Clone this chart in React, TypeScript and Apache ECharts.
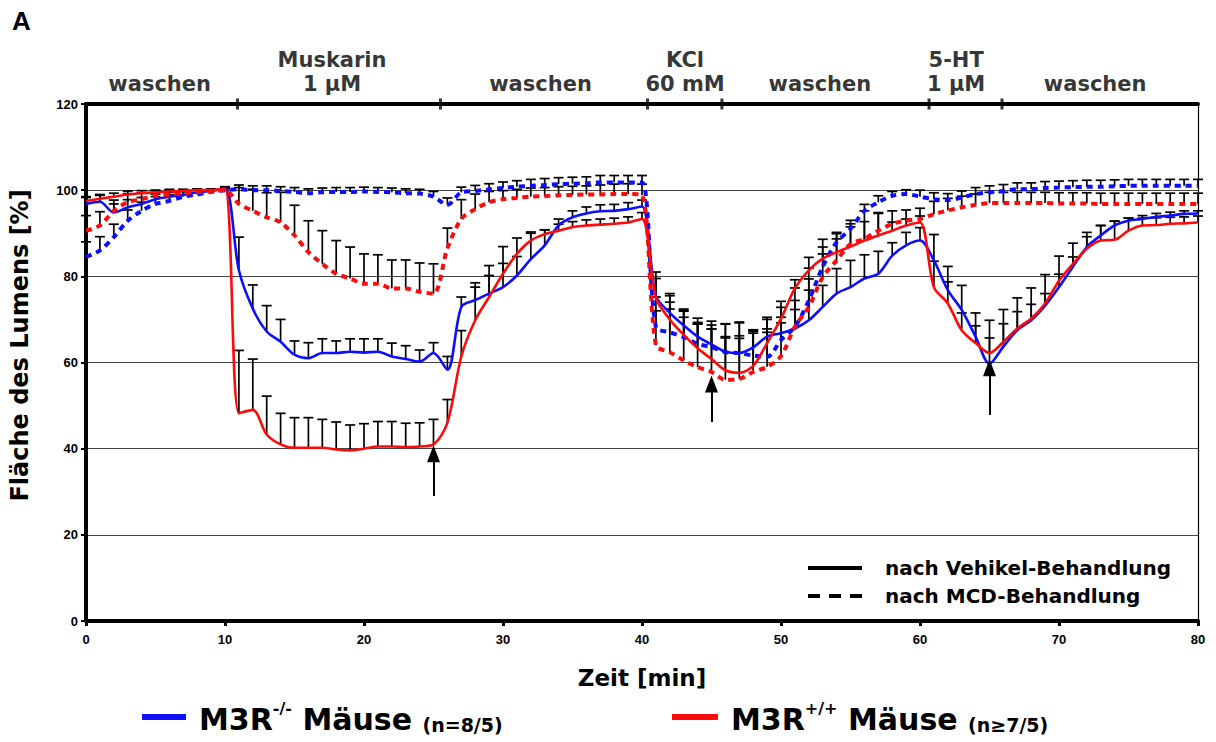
import React, { useEffect, useRef } from "react";
import * as echarts from "echarts";

const FONT = '"Liberation Sans", Arial, sans-serif';
const WIDE = '"DejaVu Sans", "Liberation Sans", sans-serif';
const BLUE = "#0d0dff";
const RED = "#ff0a0a";

// time points (min)
const minutes: number[] = Array.from({ length: 81 }, (_, i) => i);

// M3R-/- , vehicle (blue solid)
const blueVehikel = [96.8, 97.3, 94.8, 96, 96.8, 97.9, 98.5, 98.9, 99.5, 99.8, 100.5,
  81.4, 72.5, 67.2, 64.8, 61.8, 61, 62.2, 62.2, 62.5, 62.3, 62.5, 61.4, 60.8, 60.2, 62.2, 58.3,
  72.9, 74.5, 76, 77.5, 80.2, 84, 87.2, 91.8, 93.7, 94.6, 95.1, 95.2, 95.6, 96.2,
  75.5, 71.5, 68.6, 66, 64.2, 62.5, 62.2, 63.5, 66, 66.8, 67.9, 69.8, 72.9, 76, 77.5, 79.5, 80.6, 84.8, 87.2, 88.3,
  83.7, 76.8, 72.2, 66, 59.7, 63.7, 67.5, 69.8, 73.2, 77.5, 82.2, 86.8, 89.5, 91.8, 92.9, 93.3, 93.8, 94.1, 94.5, 94.6];
const blueVehikelSem = [1.5, 1.5, 2, 1.8, 1.5, 1.2, 1, 0.8, 0.6, 0.5, 0.3,
  7.7, 5.5, 6, 5.2, 3.2, 3.6, 3.3, 2.8, 3, 3.2, 3, 3.1, 3.1, 2.7, 2.4, 3.1,
  2.3, 4, 4.2, 5.5, 4.4, 6, 3.6, 1.5, 1.5, 1.5, 1.5, 1.5, 1.5, 1.5,
  4, 4, 3.5, 3, 4.5, 6.5, 7.2, 4, 4, 6, 6.5, 7, 5, 5.8, 6.2, 5.5, 5.2, 3, 3, 3,
  6, 5.5, 5.7, 5.5, 6, 5.3, 4.3, 3.7, 2.8, 3, 2.3, 2.4, 2.3, 1, 0.6, 0.8, 0.8, 0.8, 0.7, 0.6];

// M3R-/- , MCD (blue dashed)
const blueMCD = [84.5, 86, 89.1, 92.9, 95.2, 96.8, 97.5, 98.5, 99, 99.6, 100,
  100.2, 100, 100, 99.8, 99.6, 99.3, 99.5, 99.6, 99.6, 99.7, 99.6, 99.5, 99.3, 99.2, 98.5, 96.6,
  99.5, 99.8, 100.2, 100.5, 100.8, 101, 101.2, 101.4, 101.5, 101.6, 101.8, 101.8, 101.8, 101.8,
  68.2, 67, 65.9, 64.3, 63.6, 62.4, 62.2, 61.6, 61.3, 65.2, 68.3, 74.4, 82.2, 87.9, 91, 95.2, 97.2, 98.7, 99.1, 98.5,
  97.9, 97.7, 98.3, 99.1, 99.5, 99.8, 100.2, 100.2, 100.5, 100.6, 100.7, 100.8, 100.8, 100.9, 101, 101, 101, 101, 101, 101];
const blueMCDSem = [3.5, 3.2, 3, 2.5, 2, 1.7, 1.4, 1.2, 1, 0.7, 0.5,
  1, 1, 1, 1, 1, 1, 1, 1, 1, 1, 1, 1, 1, 1, 1.2, 1.6,
  1.2, 1.3, 1.3, 1.4, 1.4, 1.5, 1.5, 1.5, 1.5, 1.5, 1.6, 1.6, 1.6, 1.6,
  7, 7, 6, 6, 6, 6.5, 7, 6, 6.5, 4, 4, 5, 3, 2, 2, 1.5, 1.5, 1, 1, 1.5,
  1.5, 1.5, 1.5, 1.5, 1.5, 1.5, 1.5, 1.5, 1.5, 1.5, 1.5, 1.5, 1.5, 1.5, 1.5, 1.5, 1.5, 1.5, 1.5, 1.5];

// M3R+/+ , vehicle (red solid)
const redVehikel = [97.5, 98, 98.5, 99, 99.3, 99.5, 99.7, 99.8, 100, 100, 100.3,
  48.2, 49, 43.3, 41, 40.2, 40.2, 40.2, 39.8, 39.6, 40, 40.5, 40.5, 40.4, 40.5, 41, 46,
  61.4, 69.8, 75.2, 80.6, 85.2, 88.3, 89.8, 90.6, 91.4, 91.8, 92, 92.2, 92.5, 93.3,
  75, 70, 66.4, 63.3, 60.8, 58.2, 57.6, 59.2, 64.5, 70.2, 77.2, 81.4, 84.1, 85.6, 86.9, 88.3, 89.5, 90.6, 91.8, 92.5,
  77.5, 73.7, 67.5, 64.5, 62.2, 64.8, 67.9, 70.2, 73.7, 79, 82.9, 86.4, 88.3, 88.5, 90.6, 91.8, 91.9, 92.2, 92.3, 92.5];
const redVehikelSem = [1, 1, 0.8, 0.8, 0.6, 0.5, 0.5, 0.4, 0.3, 0.3, 0.3,
  14.6, 11.8, 8.9, 7.2, 7, 7, 6.6, 6.4, 5.9, 5.8, 5.8, 5.8, 5.5, 5.5, 5.8, 5.4,
  6, 7.7, 7.3, 6.3, 3.7, 2, 1, 1.5, 1.3, 1.3, 1.3, 1.3, 1.3, 1.5,
  6, 6, 6, 6, 7, 7.5, 8, 8, 6, 4, 2, 3, 4.5, 4.6, 5.3, 6.9, 5.3, 2, 1.5, 1.5,
  6, 5, 4, 4, 7.6, 7.5, 7.1, 7.1, 6.7, 5.7, 4.8, 3.8, 3.5, 4.3, 2.9, 1.7, 1.7, 1.5, 1.5, 1.5];

// M3R+/+ , MCD (red dashed)
const redMCD = [90.6, 91.8, 95.2, 97.2, 97.9, 98.7, 99, 99.3, 99.6, 99.8, 100,
  96.8, 95.2, 93.7, 92.5, 89.5, 85.6, 82.9, 80.6, 79.5, 78.3, 78.3, 77.2, 77.2, 76.4, 76, 86.5,
  93.3, 95.6, 97.2, 97.9, 98.2, 98.5, 98.6, 98.8, 98.9, 99, 99, 99.1, 99.1, 98.8,
  64, 62.4, 60.5, 58.9, 57.8, 56, 56.2, 57.8, 59, 61.5, 68.3, 72.9, 79.8, 83.7, 87.5, 88.7, 90.6, 92.2, 92.9, 93.3,
  94.4, 95.3, 96, 96.6, 97, 97, 97, 97, 97, 96.9, 96.9, 96.9, 96.8, 96.8, 96.8, 96.8, 96.8, 96.8, 96.8, 96.8];
const redMCDSem = [3.5, 3.2, 2.5, 2, 1.5, 1.2, 1, 0.8, 0.6, 0.4, 0.3,
  3.8, 5, 5.7, 7, 7, 7.3, 7.7, 7.7, 7.3, 6.9, 6.7, 6.6, 6.6, 6.7, 6.9, 4.7,
  4.5, 3.5, 2.5, 2, 2, 2, 2, 2, 2, 2, 2.2, 2.3, 2.4, 2.6,
  8, 10, 10, 10, 10, 10, 10, 9, 8, 9, 9, 9, 7, 5, 4, 4, 4, 3, 2.5, 2.5,
  3, 2.8, 2.6, 2.5, 2.5, 2.5, 2.5, 2.5, 2.5, 2.5, 2.5, 2.5, 2.5, 2.5, 2.5, 2.5, 2.5, 2.5, 2.5, 2.5];

// protocol annotations along the top
const phaseLabels = ["waschen", "Muskarin\n1 µM", "waschen", "KCl\n60 mM", "waschen", "5-HT\n1 µM", "waschen"];
const phaseCenters = [5.3, 17.7, 32.7, 43.1, 52.8, 62.6, 72.6];
const phaseTicks = [10.9, 25.5, 40.4, 45.75, 60.65, 65.9];

// arrows (x, from y, to y)
const arrowX = [25, 45, 65];
const arrowFrom = [29, 46.2, 47.8];
const arrowTo = [38.8, 55, 58.8];

const xTicks = [0, 10, 20, 30, 40, 50, 60, 70, 80];
const yTicks = [0, 20, 40, 60, 80, 100, 120];

const pair = (ys: number[]) => minutes.map((m, i) => [m, ys[i]]);

const DASH_ICON = "path://M0,0h12v4h-12z M21,0h12v4h-12z M42,0h12v4h-12z";

export default function App() {
  const ref = useRef<HTMLDivElement>(null);
  useEffect(() => {
    if (!ref.current) return;
    const chart = echarts.init(ref.current, null, { renderer: "svg" });

    const errData: number[][] = [];
    [[blueVehikel, blueVehikelSem], [blueMCD, blueMCDSem], [redVehikel, redVehikelSem], [redMCD, redMCDSem]].forEach(([m, s]) => {
      minutes.forEach((t, i) => errData.push([t, m[i], s[i]]));
    });

    const lineSeries = (name: string, data: number[], color: string, dashed: boolean) => ({
      type: "line",
      name,
      data: pair(data),
      smooth: 0.3,
      symbol: "none",
      z: 3,
      lineStyle: dashed ? { color, width: 4, type: [6, 5] } : { color, width: 2.6 },
      itemStyle: { color },
    });

    const legendRich = {
      a: { fontSize: 30, fontWeight: "bold", fontFamily: WIDE, color: "#000", lineHeight: 34, verticalAlign: "bottom" },
      sup: { fontSize: 16, fontWeight: "bold", fontFamily: WIDE, color: "#000", verticalAlign: "top", lineHeight: 34 },
      n: { fontSize: 19, fontWeight: "bold", fontFamily: WIDE, color: "#000", verticalAlign: "bottom", lineHeight: 30 },
    };

    chart.setOption({
      animation: false,
      backgroundColor: "#ffffff",
      grid: { left: 86, right: 18, top: 104, bottom: 121, containLabel: false },
      graphic: [
        { type: "text", left: 12, top: 8, style: { text: "A", fontSize: 26, fontWeight: "bold", fontFamily: FONT, fill: "#000" } },
      ],
      xAxis: [
        {
          type: "value", min: 0, max: 80, interval: 10, position: "bottom",
          name: "Zeit [min]", nameLocation: "middle", nameGap: 45,
          nameTextStyle: { fontSize: 23, fontWeight: "bold", fontFamily: WIDE, color: "#000" },
          axisLine: { show: true, onZero: false, lineStyle: { color: "#000", width: 4 } },
          axisTick: { show: true, length: 5, lineStyle: { color: "#000", width: 3 } },
          axisLabel: { fontSize: 13, fontWeight: "bold", fontFamily: FONT, color: "#000", margin: 12, formatter: (v: number) => (xTicks.includes(v) ? String(v) : "") },
          splitLine: { show: false },
        },
        {
          type: "value", min: 0, max: 80, position: "top",
          axisLine: { show: true, onZero: false, lineStyle: { color: "#000", width: 4 } },
          axisTick: { show: false }, axisLabel: { show: false }, splitLine: { show: false },
        },
      ],
      yAxis: [
        {
          type: "value", min: 0, max: 120, interval: 20,
          name: "Fläche des Lumens [%]", nameLocation: "middle", nameGap: 54,
          nameTextStyle: { fontSize: 24, fontWeight: "bold", fontFamily: WIDE, color: "#000", padding: [0, 0, 0, 34] },
          axisLine: { show: true, onZero: false, lineStyle: { color: "#000", width: 4 } },
          axisTick: { show: true, length: 5, lineStyle: { color: "#000", width: 2 } },
          axisLabel: { fontSize: 13, fontWeight: "bold", fontFamily: FONT, color: "#000", margin: 8, formatter: (v: number) => (yTicks.includes(v) ? String(v) : "") },
          splitLine: { show: true, lineStyle: { color: "#444", width: 1 } },
        },
        {
          type: "value", min: 0, max: 120, interval: 20, position: "right",
          axisLine: { show: true, onZero: false, lineStyle: { color: "#000", width: 1.2 } },
          axisTick: { show: false }, axisLabel: { show: false }, splitLine: { show: false },
        },
      ],
      legend: [
        {
          orient: "vertical", left: 808, top: 556, padding: 0, itemGap: 4, itemWidth: 54, itemHeight: 4,
          data: [
            { name: "nach Vehikel-Behandlung", icon: "rect" },
            { name: "nach MCD-Behandlung", icon: DASH_ICON },
          ],
          textStyle: { fontSize: 20, fontWeight: "bold", fontFamily: WIDE, color: "#000", padding: [0, 0, 0, 18], lineHeight: 24 },
          selectedMode: false,
        },
        {
          left: 142, top: 700, padding: 0, itemWidth: 44, itemHeight: 6, icon: "rect",
          data: ["M3R-/-"], selectedMode: false,
          formatter: () => "{a|M3R}{sup|-/-}{a| Mäuse }{n|(n=8/5)}",
          textStyle: { rich: legendRich, padding: [0, 0, 0, 8] },
        },
        {
          left: 672, top: 700, padding: 0, itemWidth: 46, itemHeight: 6, icon: "rect",
          data: ["M3R+/+"], selectedMode: false,
          formatter: () => "{a|M3R}{sup|+/+}{a| Mäuse }{n|(n≥7/5)}",
          textStyle: { rich: legendRich, padding: [0, 0, 0, 8] },
        },
      ],
      series: [
        {
          type: "custom",
          name: "errors",
          z: 2,
          silent: true,
          encode: { x: 0, y: 1 },
          data: errData,
          renderItem: (params: any, api: any) => {
            const x = api.value(0), y = api.value(1), e = api.value(2);
            const p0 = api.coord([x, y]);
            const p1 = api.coord([x, y + e]);
            const st = { stroke: "#000", lineWidth: 1.7 };
            return {
              type: "group",
              children: [
                { type: "line", shape: { x1: p0[0], y1: p0[1], x2: p1[0], y2: p1[1] }, style: st },
                { type: "line", shape: { x1: p1[0] - 5, y1: p1[1], x2: p1[0] + 5, y2: p1[1] }, style: st },
              ],
            };
          },
        },
        lineSeries("bv", blueVehikel, BLUE, false),
        lineSeries("bm", blueMCD, BLUE, true),
        lineSeries("rv", redVehikel, RED, false),
        lineSeries("rm", redMCD, RED, true),
        {
          type: "scatter", name: "phaseTicks", silent: true, clip: false, z: 5,
          symbol: "rect", symbolSize: [3, 11], itemStyle: { color: "#000" },
          data: phaseTicks.map((x) => [x, 120]),
        },
        {
          type: "scatter", name: "phaseLabels", silent: true, clip: false, z: 5,
          symbolSize: 0,
          data: phaseCenters.map((x, i) => ({ value: [x, 120], name: phaseLabels[i] })),
          label: {
            show: true, position: "top", distance: 8, formatter: (p: any) => p.name,
            fontSize: 21, fontWeight: "bold", fontFamily: WIDE, color: "#000", lineHeight: 24, align: "center",
          },
        },
        {
          type: "line", name: "arrows", data: [], silent: true,
          markLine: {
            silent: true, symbol: ["none", "triangle"], symbolSize: [13, 17], animation: false,
            label: { show: false },
            lineStyle: { color: "#000", width: 2, type: "solid" },
            data: arrowX.map((x, i) => [{ coord: [x, arrowFrom[i]] }, { coord: [x, arrowTo[i]] }]),
          },
        },
        { type: "line", name: "nach Vehikel-Behandlung", data: [], symbol: "none", lineStyle: { color: "#000", width: 3 }, itemStyle: { color: "#000" } },
        { type: "line", name: "nach MCD-Behandlung", data: [], symbol: "none", lineStyle: { color: "#000", width: 3, type: [9, 8] }, itemStyle: { color: "#000" } },
        { type: "line", name: "M3R-/-", data: [], symbol: "none", lineStyle: { color: BLUE, width: 6 }, itemStyle: { color: BLUE } },
        { type: "line", name: "M3R+/+", data: [], symbol: "none", lineStyle: { color: RED, width: 6 }, itemStyle: { color: RED } },
      ],
    });
    return () => chart.dispose();
  }, []);
  return <div ref={ref} style={{ position: "fixed", left: 0, top: 0, width: 1216, height: 742, background: "#fff" }} />;
}
